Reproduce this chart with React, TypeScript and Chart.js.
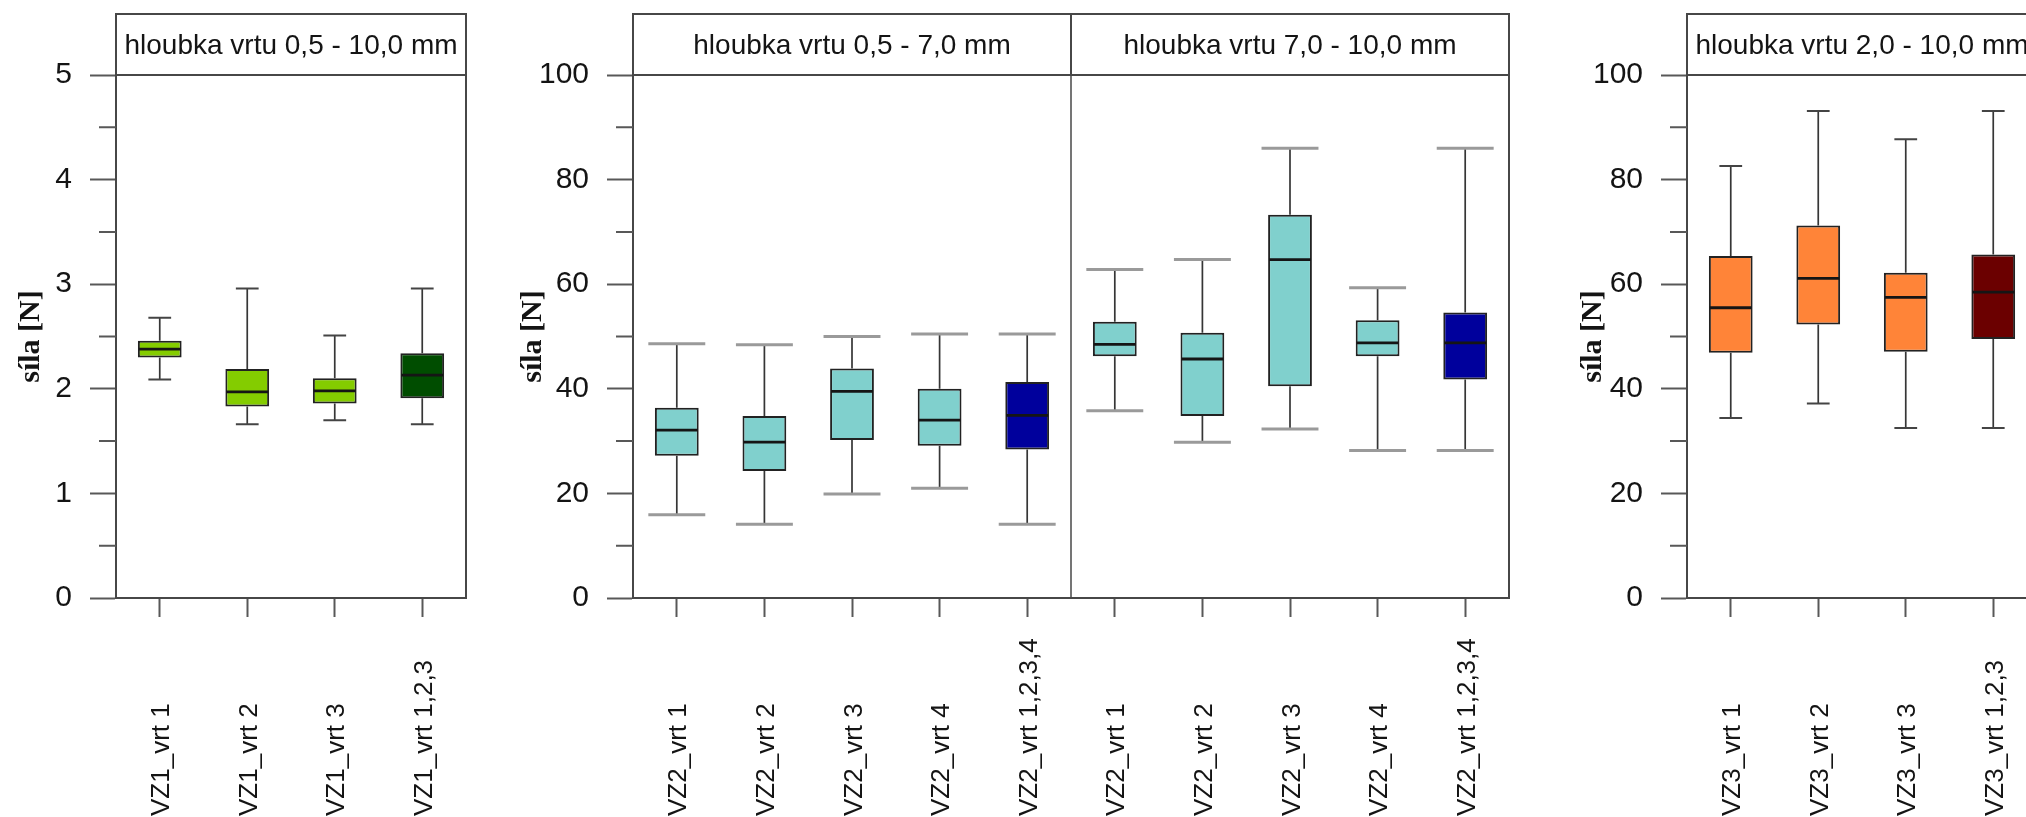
import React, { useEffect, useRef } from "react";
import { Chart, registerables } from "chart.js";

Chart.register(...registerables);

// ---------------- Data ----------------
// Panel 1 – VZ1
const vz1Labels = ["VZ1_vrt 1", "VZ1_vrt 2", "VZ1_vrt 3", "VZ1_vrt 1,2,3"];
const vz1Min = [2.09, 1.66, 1.7, 1.66];
const vz1Q1 = [2.3, 1.83, 1.86, 1.91];
const vz1Median = [2.38, 1.97, 1.98, 2.13];
const vz1Q3 = [2.46, 2.19, 2.1, 2.34];
const vz1Max = [2.68, 2.96, 2.51, 2.96];
const vz1Colors = ["#84cc00", "#84cc00", "#84cc00", "#004d00"];
const vz1Headers = ["hloubka vrtu 0,5 - 10,0 mm"];
const vz1HeaderFrom = [0];
const vz1HeaderTo = [3];
const vz1YMax = 5;
const vz1YStep = 1;
const vz1Minor = [0.5, 1.5, 2.5, 3.5, 4.5];

// Panel 2 – VZ2
const vz2Labels = [
  "VZ2_vrt 1", "VZ2_vrt 2", "VZ2_vrt 3", "VZ2_vrt 4", "VZ2_vrt 1,2,3,4",
  "VZ2_vrt 1", "VZ2_vrt 2", "VZ2_vrt 3", "VZ2_vrt 4", "VZ2_vrt 1,2,3,4",
];
const vz2Min = [15.9, 14.1, 19.9, 21.0, 14.1, 35.8, 29.8, 32.3, 28.2, 28.2];
const vz2Q1 = [27.2, 24.3, 30.2, 29.1, 28.4, 46.2, 34.8, 40.5, 46.2, 41.8];
const vz2Median = [32.1, 29.8, 39.5, 34.0, 34.9, 48.5, 45.7, 64.7, 48.8, 48.8];
const vz2Q3 = [36.4, 34.8, 43.9, 40.0, 41.3, 52.8, 50.7, 73.3, 53.1, 54.6];
const vz2Max = [48.6, 48.4, 50.0, 50.5, 50.5, 62.8, 64.7, 86.0, 59.3, 86.0];
const vz2Colors = [
  "#80d0cd", "#80d0cd", "#80d0cd", "#80d0cd", "#00009c",
  "#80d0cd", "#80d0cd", "#80d0cd", "#80d0cd", "#00009c",
];
const vz2Headers = ["hloubka vrtu 0,5 - 7,0 mm", "hloubka vrtu 7,0 - 10,0 mm"];
const vz2HeaderFrom = [0, 5];
const vz2HeaderTo = [4, 9];
const vz2YMax = 100;
const vz2YStep = 20;
const vz2Minor = [10, 30, 50, 70, 90];

// Panel 3 – VZ3
const vz3Labels = ["VZ3_vrt 1", "VZ3_vrt 2", "VZ3_vrt 3", "VZ3_vrt 1,2,3"];
const vz3Min = [34.4, 37.2, 32.5, 32.5];
const vz3Q1 = [46.9, 52.3, 47.1, 49.5];
const vz3Median = [55.5, 61.1, 57.5, 58.5];
const vz3Q3 = [65.4, 71.2, 62.2, 65.7];
const vz3Max = [82.6, 93.1, 87.7, 93.1];
const vz3Colors = ["#ff8438", "#ff8438", "#ff8438", "#6b0000"];
const vz3Headers = ["hloubka vrtu 2,0 - 10,0 mm"];
const vz3HeaderFrom = [0];
const vz3HeaderTo = [3];
const vz3YMax = 100;
const vz3YStep = 20;
const vz3Minor = [10, 30, 50, 70, 90];

const yTitle = "síla [N]";

// ---------------- Styling ----------------
const SANS = "'Liberation Sans', Arial, Helvetica, sans-serif";
const SERIF = "'Liberation Serif', 'Times New Roman', serif";
const FRAME = "#474747";
const TEXT = "#141414";
const PAGE_H = 817;
const AREA_TOP = 75;
const AREA_BOTTOM = 598;
const HEADER_TOP = 14;

type PanelProps = {
  labels: string[];
  min: number[];
  q1: number[];
  median: number[];
  q3: number[];
  max: number[];
  colors: string[];
  headers: string[];
  headerFrom: number[];
  headerTo: number[];
  yMax: number;
  yStep: number;
  minor: number[];
  left: number;
  width: number;
  axisWidth: number;
  padRight: number;
  titlePad: number;
  capRatio: number;
  capColor: string;
  capWidth: number;
};

function makePlugin(p: PanelProps) {
  return {
    id: "boxDecor",
    afterDatasetsDraw(chart: any) {
      const { ctx } = chart;
      const ys = chart.scales.y;
      const meta = chart.getDatasetMeta(0);
      ctx.save();
      meta.data.forEach((bar: any, i: number) => {
        const cx = bar.x;
        const w = bar.width;
        const pMin = ys.getPixelForValue(p.min[i]);
        const pMax = ys.getPixelForValue(p.max[i]);
        const pQ1 = ys.getPixelForValue(p.q1[i]);
        const pQ3 = ys.getPixelForValue(p.q3[i]);
        const pMed = ys.getPixelForValue(p.median[i]);
        ctx.lineCap = "butt";
        ctx.strokeStyle = "#363636";
        ctx.lineWidth = 1.7;
        ctx.beginPath();
        ctx.moveTo(cx, pQ3);
        ctx.lineTo(cx, pMax);
        ctx.moveTo(cx, pQ1);
        ctx.lineTo(cx, pMin);
        ctx.stroke();
        const cw = (w * p.capRatio) / 2;
        ctx.strokeStyle = p.capColor;
        ctx.lineWidth = p.capWidth;
        ctx.beginPath();
        ctx.moveTo(cx - cw, pMax);
        ctx.lineTo(cx + cw, pMax);
        ctx.moveTo(cx - cw, pMin);
        ctx.lineTo(cx + cw, pMin);
        ctx.stroke();
        ctx.strokeStyle = "#151515";
        ctx.lineWidth = 2.8;
        ctx.beginPath();
        ctx.moveTo(cx - w / 2 + 1, pMed);
        ctx.lineTo(cx + w / 2 - 1, pMed);
        ctx.stroke();
      });
      ctx.restore();
    },
    afterDraw(chart: any) {
      const { ctx, chartArea } = chart;
      const xs = chart.scales.x;
      const ys = chart.scales.y;
      const n = p.labels.length;
      ctx.save();
      // frame top & right
      ctx.strokeStyle = FRAME;
      ctx.lineWidth = 2;
      ctx.beginPath();
      ctx.moveTo(chartArea.left, chartArea.top);
      ctx.lineTo(chartArea.right, chartArea.top);
      ctx.lineTo(chartArea.right, chartArea.bottom);
      ctx.stroke();
      // header strips
      const edge = (idx: number, start: boolean) => {
        if (start && idx === 0) return chartArea.left;
        if (!start && idx === n - 1) return chartArea.right;
        return start
          ? (xs.getPixelForValue(idx - 1) + xs.getPixelForValue(idx)) / 2
          : (xs.getPixelForValue(idx) + xs.getPixelForValue(idx + 1)) / 2;
      };
      p.headers.forEach((text, g) => {
        const x0 = edge(p.headerFrom[g], true);
        const x1 = edge(p.headerTo[g], false);
        ctx.strokeStyle = FRAME;
        ctx.lineWidth = 2;
        ctx.strokeRect(x0, HEADER_TOP, x1 - x0, chartArea.top - HEADER_TOP);
        if (p.headerFrom[g] > 0) {
          ctx.lineWidth = 1.5;
          ctx.beginPath();
          ctx.moveTo(x0, chartArea.top);
          ctx.lineTo(x0, chartArea.bottom);
          ctx.stroke();
        }
        ctx.fillStyle = TEXT;
        ctx.font = `28px ${SANS}`;
        ctx.textAlign = "center";
        ctx.textBaseline = "alphabetic";
        ctx.fillText(text, (x0 + x1) / 2, 54);
      });
      // minor y ticks
      ctx.strokeStyle = "#585858";
      ctx.lineWidth = 2;
      ctx.beginPath();
      p.minor.forEach((v) => {
        const py = ys.getPixelForValue(v);
        ctx.moveTo(chartArea.left - 17, py);
        ctx.lineTo(chartArea.left, py);
      });
      ctx.stroke();
      // x labels, rotated, anchored at the bottom
      ctx.fillStyle = TEXT;
      ctx.font = `26px ${SANS}`;
      ctx.textAlign = "left";
      ctx.textBaseline = "alphabetic";
      p.labels.forEach((lab, i) => {
        const px = xs.getPixelForValue(i);
        ctx.save();
        ctx.translate(px + 9.5, 816);
        ctx.rotate(-Math.PI / 2);
        ctx.fillText(lab, 0, 0);
        ctx.restore();
      });
      ctx.restore();
    },
  };
}

function Panel(p: PanelProps) {
  const ref = useRef<HTMLCanvasElement>(null);
  useEffect(() => {
    const canvas = ref.current;
    if (!canvas) return;
    const chart = new Chart(canvas, {
      type: "bar",
      data: {
        labels: p.labels,
        datasets: [
          {
            data: p.q1.map((v, i) => [v, p.q3[i]]) as any,
            backgroundColor: p.colors,
            borderColor: "#222222",
            borderWidth: 2,
            borderSkipped: false,
            barPercentage: 0.5,
            categoryPercentage: 1,
          },
        ],
      },
      options: {
        responsive: false,
        maintainAspectRatio: false,
        animation: false,
        devicePixelRatio: 1,
        layout: { padding: { top: AREA_TOP, right: p.padRight, left: 0, bottom: 0 } },
        plugins: {
          legend: { display: false },
          tooltip: { enabled: false },
          title: { display: false },
        },
        scales: {
          x: {
            type: "category",
            offset: true,
            grid: {
              display: true,
              drawOnChartArea: false,
              drawTicks: true,
              tickLength: 19,
              tickColor: "#585858",
              tickWidth: 2,
              offset: false,
            },
            border: { display: true, color: FRAME, width: 2 },
            ticks: { display: false },
            afterFit: (s: any) => {
              s.height = PAGE_H - AREA_BOTTOM;
            },
          },
          y: {
            type: "linear",
            min: 0,
            max: p.yMax,
            ticks: {
              stepSize: p.yStep,
              color: TEXT,
              padding: 18,
              font: { family: SANS, size: 30 },
            },
            grid: {
              drawOnChartArea: false,
              drawTicks: true,
              tickLength: 26,
              tickColor: "#585858",
              tickWidth: 2,
            },
            border: { display: true, color: FRAME, width: 2 },
            title: {
              display: true,
              text: yTitle,
              color: TEXT,
              font: { family: SERIF, size: 30, weight: "bold" },
              padding: { top: p.titlePad, bottom: 0 },
            },
            afterFit: (s: any) => {
              s.width = p.axisWidth;
            },
          },
        },
      },
      plugins: [makePlugin(p)],
    } as any);
    return () => chart.destroy();
  }, []);
  return (
    <canvas
      ref={ref}
      width={p.width}
      height={PAGE_H}
      style={{ position: "absolute", left: p.left, top: 0, width: p.width, height: PAGE_H }}
    />
  );
}

export default function App() {
  return (
    <div
      style={{
        position: "fixed",
        left: 0,
        top: 0,
        width: 2026,
        height: PAGE_H,
        overflow: "hidden",
        background: "#ffffff",
      }}
    >
      <Panel
        labels={vz1Labels}
        min={vz1Min}
        q1={vz1Q1}
        median={vz1Median}
        q3={vz1Q3}
        max={vz1Max}
        colors={vz1Colors}
        headers={vz1Headers}
        headerFrom={vz1HeaderFrom}
        headerTo={vz1HeaderTo}
        yMax={vz1YMax}
        yStep={vz1YStep}
        minor={vz1Minor}
        left={0}
        width={500}
        axisWidth={116}
        padRight={34}
        titlePad={13}
        capRatio={0.52}
        capColor="#444444"
        capWidth={2}
      />
      <Panel
        labels={vz2Labels}
        min={vz2Min}
        q1={vz2Q1}
        median={vz2Median}
        q3={vz2Q3}
        max={vz2Max}
        colors={vz2Colors}
        headers={vz2Headers}
        headerFrom={vz2HeaderFrom}
        headerTo={vz2HeaderTo}
        yMax={vz2YMax}
        yStep={vz2YStep}
        minor={vz2Minor}
        left={500}
        width={1030}
        axisWidth={133}
        padRight={21}
        titlePad={15}
        capRatio={1.3}
        capColor="#9a9a9a"
        capWidth={3}
      />
      <Panel
        labels={vz3Labels}
        min={vz3Min}
        q1={vz3Q1}
        median={vz3Median}
        q3={vz3Q3}
        max={vz3Max}
        colors={vz3Colors}
        headers={vz3Headers}
        headerFrom={vz3HeaderFrom}
        headerTo={vz3HeaderTo}
        yMax={vz3YMax}
        yStep={vz3YStep}
        minor={vz3Minor}
        left={1560}
        width={500}
        axisWidth={127}
        padRight={23}
        titlePad={15}
        capRatio={0.52}
        capColor="#444444"
        capWidth={2}
      />
    </div>
  );
}
